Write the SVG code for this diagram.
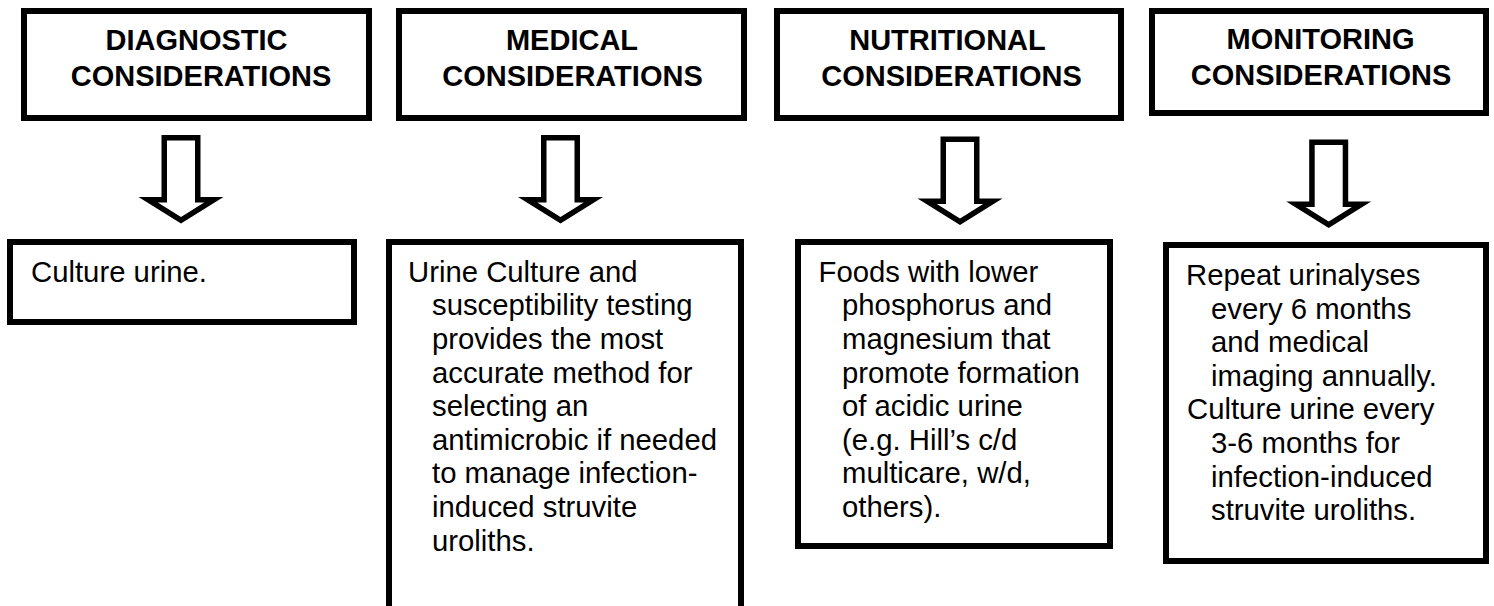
<svg xmlns="http://www.w3.org/2000/svg" width="1494" height="606" viewBox="0 0 1494 606">
<style>
.box{fill:#fff;stroke:#000;stroke-width:6}
.hdr{font-family:"Liberation Sans",Arial,sans-serif;font-weight:bold;font-size:29px;fill:#000;text-anchor:middle}
.body{font-family:"Liberation Sans",Arial,sans-serif;font-size:29.3px;fill:#000}
</style>
<defs>
<path id="blockArrow" fill="#000" fill-rule="evenodd" d="M-19.5,0 H19.5 V62 H42.5 L0,88.5 L-42.5,62 H-19.5 Z M-14,5.5 H14 V67.5 H23.2 L0,82 L-23.2,67.5 H-14 Z"/>
</defs>
<rect width="1494" height="606" fill="#fff"/>
<g id="diagnostic-header">
<rect class="box" x="24" y="11" width="345" height="107"/>
<text class="hdr"><tspan x="196.5" y="49.5">DIAGNOSTIC</tspan><tspan x="201" y="86">CONSIDERATIONS</tspan></text>
</g>
<g id="medical-header">
<rect class="box" x="399" y="11" width="345" height="107"/>
<text class="hdr"><tspan x="572" y="49.5">MEDICAL</tspan><tspan x="572.5" y="86">CONSIDERATIONS</tspan></text>
</g>
<g id="nutritional-header">
<rect class="box" x="777" y="11" width="344" height="107"/>
<text class="hdr"><tspan x="947.5" y="49.5">NUTRITIONAL</tspan><tspan x="951.5" y="86">CONSIDERATIONS</tspan></text>
</g>
<g id="monitoring-header">
<rect class="box" x="1152" y="11" width="334" height="102"/>
<text class="hdr"><tspan x="1320.5" y="48.5">MONITORING</tspan><tspan x="1321" y="85">CONSIDERATIONS</tspan></text>
</g>
<g id="connectors">
<use href="#blockArrow" transform="translate(181,135)"/>
<use href="#blockArrow" transform="translate(560.5,135)"/>
<use href="#blockArrow" transform="translate(960,136.5)"/>
<use href="#blockArrow" transform="translate(1328.7,139.5)"/>
</g>
<g id="diagnostic-detail">
<rect class="box" x="10" y="242" width="344" height="80"/>
<text class="body" x="31" y="281.7">Culture urine.</text>
</g>
<g id="medical-detail">
<rect class="box" x="389" y="242" width="352" height="400"/>
<text class="body">
<tspan x="408" y="281.7">Urine Culture and</tspan>
<tspan x="432" y="315.3">susceptibility testing</tspan>
<tspan x="432" y="348.9">provides the most</tspan>
<tspan x="432" y="382.5">accurate method for</tspan>
<tspan x="432" y="416.1">selecting an</tspan>
<tspan x="432" y="449.7">antimicrobic if needed</tspan>
<tspan x="432" y="483.3">to manage infection-</tspan>
<tspan x="432" y="516.9">induced struvite</tspan>
<tspan x="432" y="550.5">uroliths.</tspan>
</text>
</g>
<g id="nutritional-detail">
<rect class="box" x="798" y="242" width="312" height="304"/>
<text class="body">
<tspan x="818.5" y="281.7">Foods with lower</tspan>
<tspan x="842" y="315.3">phosphorus and</tspan>
<tspan x="842" y="348.9">magnesium that</tspan>
<tspan x="842" y="382.5">promote formation</tspan>
<tspan x="842" y="416.1">of acidic urine</tspan>
<tspan x="842" y="449.7">(e.g. Hill’s c/d</tspan>
<tspan x="842" y="483.3">multicare, w/d,</tspan>
<tspan x="842" y="516.9">others).</tspan>
</text>
</g>
<g id="monitoring-detail">
<rect class="box" x="1166" y="245" width="320" height="316"/>
<text class="body">
<tspan x="1186" y="285">Repeat urinalyses</tspan>
<tspan x="1211" y="318.6">every 6 months</tspan>
<tspan x="1211" y="352.2">and medical</tspan>
<tspan x="1211" y="385.8">imaging annually.</tspan>
<tspan x="1187" y="419.4">Culture urine every</tspan>
<tspan x="1211" y="453">3-6 months for</tspan>
<tspan x="1211" y="486.6">infection-induced</tspan>
<tspan x="1211" y="520.2">struvite uroliths.</tspan>
</text>
</g>
</svg>
